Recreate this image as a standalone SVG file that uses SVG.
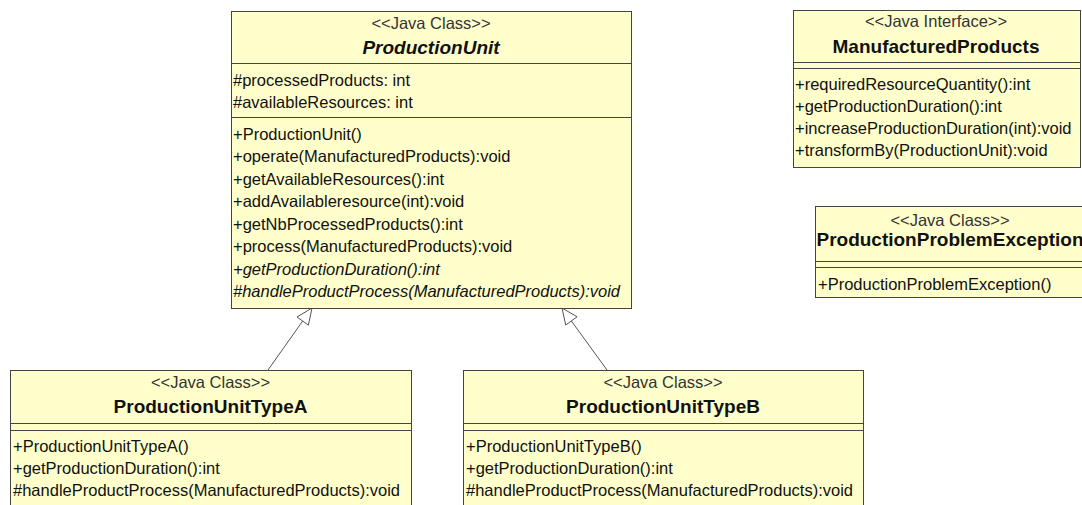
<svg xmlns="http://www.w3.org/2000/svg" width="1082" height="505" viewBox="0 0 1082 505">
<style>
.box{fill:#FFFFCC;stroke:#444;stroke-width:1}
.sep{stroke:#444;stroke-width:1}
.st{font-family:"Liberation Sans",Arial,sans-serif;font-size:16.5px;fill:#333;text-anchor:middle}
.ti{font-family:"Liberation Sans",Arial,sans-serif;font-size:19px;font-weight:bold;fill:#111;text-anchor:middle}
.tx{font-family:"Liberation Sans",Arial,sans-serif;font-size:16.5px;fill:#111}
.it{font-style:italic}
.edge{stroke:#555;stroke-width:1;fill:none}
.head{fill:#fff;stroke:#555;stroke-width:1}
</style>
<rect width="1082" height="505" fill="#fff"/>
<g id="connectors">
<line class="edge" x1="268" y1="370" x2="302.7" y2="321"/>
<polygon class="head" points="312,308 308.4,325.1 297,317"/>
<line class="edge" x1="607" y1="370" x2="571.4" y2="321"/>
<polygon class="head" points="562,308 577.1,316.8 565.7,325"/>
</g>
<g id="ProductionUnit">
<rect class="box" x="231.5" y="11.5" width="400" height="297"/>
<line class="sep" x1="231.5" y1="63.5" x2="631.5" y2="63.5"/>
<line class="sep" x1="231.5" y1="117.5" x2="631.5" y2="117.5"/>
<text class="st" x="431" y="29">&lt;&lt;Java Class&gt;&gt;</text>
<text class="ti it" x="431" y="54">ProductionUnit</text>
<text class="tx" x="233" y="86">#processedProducts: int</text>
<text class="tx" x="233" y="108">#availableResources: int</text>
<text class="tx" x="233" y="139.5">+ProductionUnit()</text>
<text class="tx" x="233" y="162">+operate(ManufacturedProducts):void</text>
<text class="tx" x="233" y="184.5">+getAvailableResources():int</text>
<text class="tx" x="233" y="207">+addAvailableresource(int):void</text>
<text class="tx" x="233" y="229.5">+getNbProcessedProducts():int</text>
<text class="tx" x="233" y="252">+process(ManufacturedProducts):void</text>
<text class="tx it" x="233" y="274.5">+getProductionDuration():int</text>
<text class="tx it" x="233" y="297">#handleProductProcess(ManufacturedProducts):void</text>
</g>
<g id="ManufacturedProducts">
<rect class="box" x="793.5" y="10.5" width="287" height="157"/>
<line class="sep" x1="793.5" y1="62.5" x2="1080.5" y2="62.5"/>
<line class="sep" x1="793.5" y1="68.5" x2="1080.5" y2="68.5"/>
<text class="st" x="936" y="27">&lt;&lt;Java Interface&gt;&gt;</text>
<text class="ti" x="936" y="53">ManufacturedProducts</text>
<text class="tx" x="795" y="90">+requiredResourceQuantity():int</text>
<text class="tx" x="795" y="112">+getProductionDuration():int</text>
<text class="tx" x="795" y="134">+increaseProductionDuration(int):void</text>
<text class="tx" x="795" y="156">+transformBy(ProductionUnit):void</text>
</g>
<g id="ProductionProblemException">
<rect class="box" x="815.5" y="206.5" width="280" height="91"/>
<line class="sep" x1="815.5" y1="261.5" x2="1095" y2="261.5"/>
<line class="sep" x1="815.5" y1="267.5" x2="1095" y2="267.5"/>
<text class="st" x="950" y="226">&lt;&lt;Java Class&gt;&gt;</text>
<text class="ti" x="950" y="246">ProductionProblemException</text>
<text class="tx" x="818" y="290">+ProductionProblemException()</text>
</g>
<g id="ProductionUnitTypeA">
<rect class="box" x="10.5" y="370.5" width="401" height="150"/>
<line class="sep" x1="10.5" y1="423.5" x2="411.5" y2="423.5"/>
<line class="sep" x1="10.5" y1="430.5" x2="411.5" y2="430.5"/>
<text class="st" x="210.5" y="388">&lt;&lt;Java Class&gt;&gt;</text>
<text class="ti" x="210.5" y="413">ProductionUnitTypeA</text>
<text class="tx" x="13" y="452">+ProductionUnitTypeA()</text>
<text class="tx" x="13" y="474">+getProductionDuration():int</text>
<text class="tx" x="13" y="496">#handleProductProcess(ManufacturedProducts):void</text>
</g>
<g id="ProductionUnitTypeB">
<rect class="box" x="463.5" y="370.5" width="400" height="150"/>
<line class="sep" x1="463.5" y1="423.5" x2="863.5" y2="423.5"/>
<line class="sep" x1="463.5" y1="430.5" x2="863.5" y2="430.5"/>
<text class="st" x="663" y="388">&lt;&lt;Java Class&gt;&gt;</text>
<text class="ti" x="663" y="413">ProductionUnitTypeB</text>
<text class="tx" x="466" y="452">+ProductionUnitTypeB()</text>
<text class="tx" x="466" y="474">+getProductionDuration():int</text>
<text class="tx" x="466" y="496">#handleProductProcess(ManufacturedProducts):void</text>
</g>
</svg>
